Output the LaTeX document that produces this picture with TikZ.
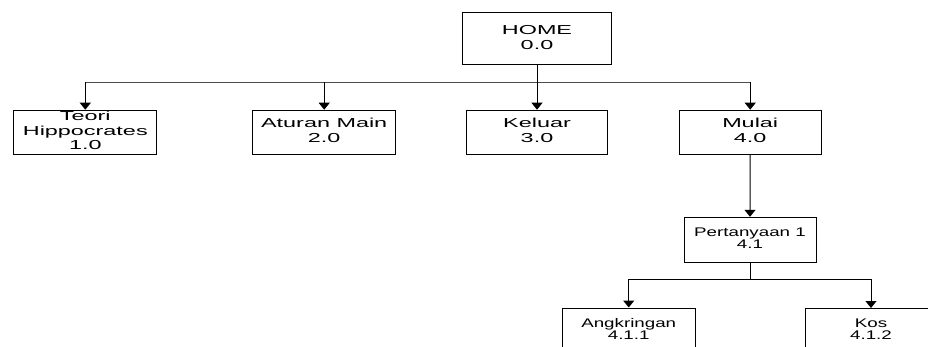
\documentclass[tikz,border=0pt]{standalone}
\usepackage{fontspec}
\setmainfont{Liberation Sans}
\usetikzlibrary{arrows.meta}
\newcommand{\bigtxt}[1]{\scalebox{1.8}[1]{\fontsize{13}{14.5}\selectfont\begin{tabular}{@{}c@{}}#1\end{tabular}}}
\newcommand{\smalltxt}[1]{\scalebox{1.5}[1]{\fontsize{12.5}{12}\selectfont\begin{tabular}{@{}c@{}}#1\end{tabular}}}
\tikzset{
  box/.style={draw=black, line width=1pt, rectangle, inner sep=0pt, minimum height=44pt},
  arr/.style={line width=1pt, -{Triangle[width=11pt,length=7pt]}},
  busline/.style={line width=1pt, draw=black!70}
}
\begin{document}
\begin{tikzpicture}[x=1pt,y=-1pt]
\useasboundingbox (0,0) rectangle (928,347);
\clip (0,0) rectangle (928,347);
\node[box, minimum width=149pt, minimum height=52pt] (home) at (537,39) {\bigtxt{HOME\\0.0}};
\node[box, minimum width=142.7pt] (teori) at (85.3,132.2) {\bigtxt{Teori\\Hippocrates\\1.0}};
\node[box, minimum width=143pt] (aturan) at (324.2,132.2) {\bigtxt{Aturan Main\\2.0}};
\node[box, minimum width=141.3pt] (keluar) at (537,132.2) {\bigtxt{Keluar\\3.0}};
\node[box, minimum width=142.3pt] (mulai) at (750.2,132.2) {\bigtxt{Mulai\\4.0}};
\node[box, minimum width=132pt, minimum height=45pt] (pert) at (750,239.8) {\smalltxt{Pertanyaan 1\\4.1}};
\node[box, minimum width=132.7pt, minimum height=45pt] (angk) at (628.7,330.5) {\smalltxt{Angkringan\\4.1.1}};
\node[box, minimum width=131pt, minimum height=45pt] (kos) at (871,331) {\smalltxt{Kos\\4.1.2}};
\coordinate (bus) at (0,82.3);
\coordinate (bus2) at (0,279.3);
% top level bus
\draw[busline] (teori.north |- bus) -- (mulai.north |- bus);
\draw[arr] (home.south) -- (keluar.north);
\draw[arr] (teori.north |- bus) -- (teori.north);
\draw[arr] (aturan.north |- bus) -- (aturan.north);
\draw[arr] (mulai.north |- bus) -- (mulai.north);
% Mulai to Pertanyaan
\draw[arr] (mulai.south) -- (pert.north);
% Pertanyaan bus
\draw[line width=1pt] (pert.south) -- (pert.south |- bus2);
\draw[line width=1pt] (angk.north |- bus2) -- (kos.north |- bus2);
\draw[arr] (angk.north |- bus2) -- (angk.north);
\draw[arr] (kos.north |- bus2) -- (kos.north);
\end{tikzpicture}
\end{document}
